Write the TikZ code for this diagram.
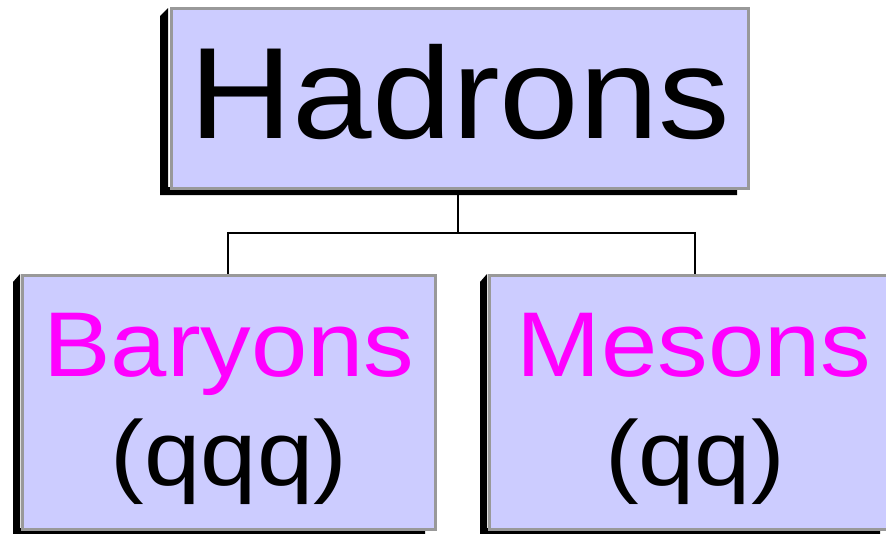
\documentclass[tikz,border=0pt]{standalone}
\usepackage{fontspec}
\setmainfont[FakeStretch=1.1]{Liberation Sans}
\begin{document}
\begin{tikzpicture}[x=1pt,y=-1pt,
  boxfill/.style={fill=boxblue,draw=boxgray,line width=3pt,inner sep=0pt,anchor=north west},
  conn/.style={draw=black,line width=2.5pt},
  lbl/.style={inner sep=0pt,anchor=base}]
\definecolor{boxblue}{HTML}{CCCCFF}
\definecolor{boxgray}{HTML}{999999}
\definecolor{mag}{HTML}{FF00FF}
\useasboundingbox (0,0) rectangle (886,533);
% shadows
\fill[black] (160,16) -- (168,8) -- (168,187) -- (737,187) -- (737,195) -- (160,195) -- cycle;
\fill[black] (13,282) -- (20,274) -- (20,528) -- (425,528) -- (425,534) -- (13,534) -- cycle;
\fill[black] (480,282) -- (487,274) -- (487,528) -- (880,528) -- (880,534) -- (480,534) -- cycle;
% boxes
\node[boxfill,minimum width=577pt,minimum height=180pt] (top) at (170,7) {};
\node[boxfill,minimum width=413pt,minimum height=254pt] (left) at (21,274) {};
\node[boxfill,minimum width=400pt,minimum height=254pt] (right) at (488,274) {};
% connectors
\coordinate (j) at (458,233);
\draw[conn] (top.south -| j) -- (j);
\draw[conn] (228,233) -- (695,233);
\draw[conn] (228,231.75) -- (228,274);
\draw[conn] (695,231.75) -- (695,274);
% labels
\node[lbl,font=\fontsize{130}{130}\selectfont] (th) at (460,138) {Hadrons};
\node[lbl,font=\fontsize{92}{92}\selectfont,text=mag] (tb) at (229,376) {Baryons};
\node[lbl,font=\fontsize{92}{92}\selectfont] (tq1) at (229,485) {(qqq)};
\node[lbl,font=\fontsize{92}{92}\selectfont,text=mag] (tm) at (694,376) {Mesons};
\node[lbl,font=\fontsize{92}{92}\selectfont] (tq2) at (695,485) {(qq)};
\end{tikzpicture}
\end{document}
